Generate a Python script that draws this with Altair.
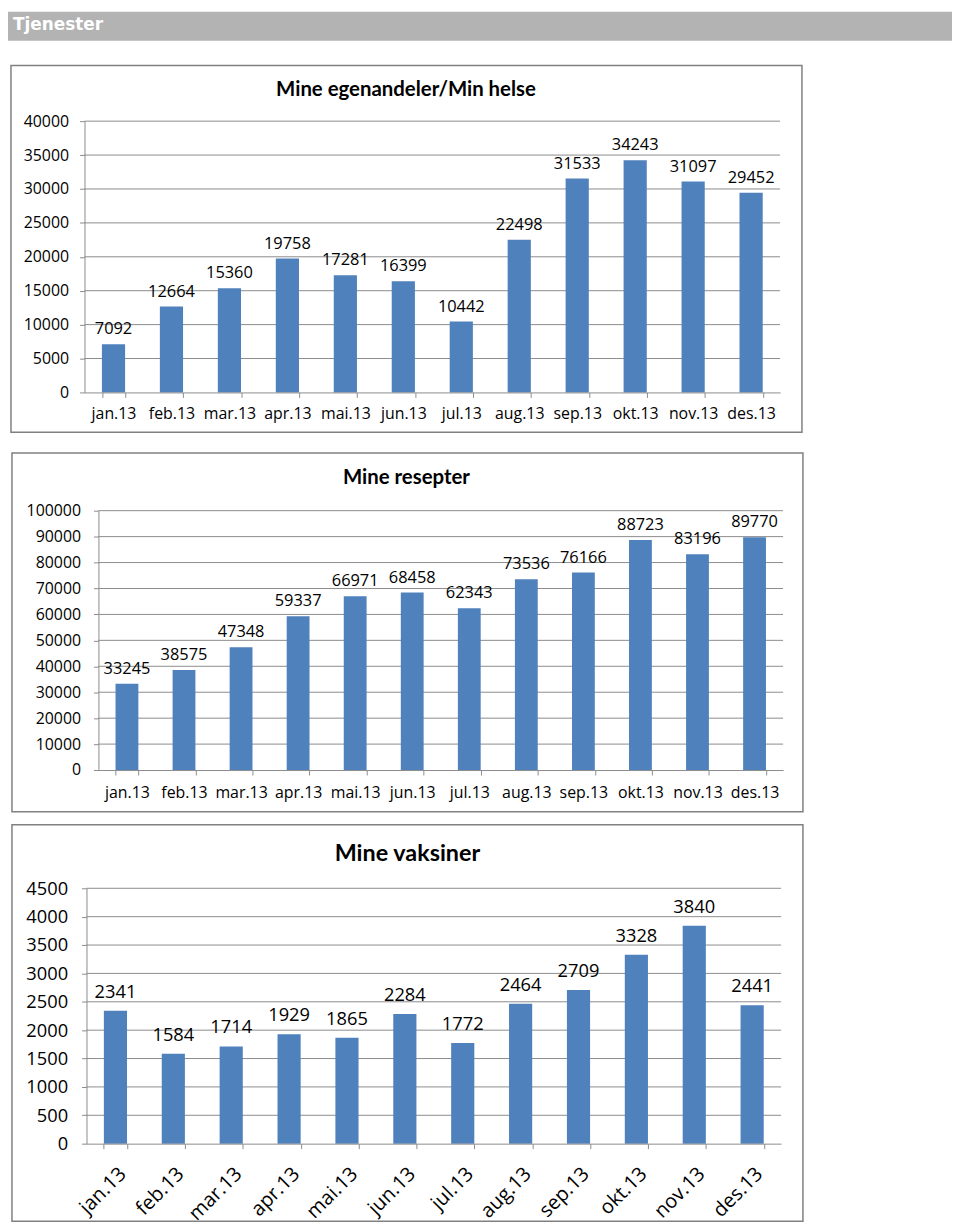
import altair as alt
import pandas as pd

# ---------------- data ----------------
months = ["jan.13", "feb.13", "mar.13", "apr.13", "mai.13", "jun.13",
          "jul.13", "aug.13", "sep.13", "okt.13", "nov.13", "des.13"]
egenandeler = [7092, 12664, 15360, 19758, 17281, 16399, 10442, 22498, 31533, 34243, 31097, 29452]
resepter = [33245, 38575, 47348, 59337, 66971, 68458, 62343, 73536, 76166, 88723, 83196, 89770]
vaksiner = [2341, 1584, 1714, 1929, 1865, 2284, 1772, 2464, 2709, 3328, 3840, 2441]

ticks_egen = [0, 5000, 10000, 15000, 20000, 25000, 30000, 35000, 40000]
ticks_resepter = [0, 10000, 20000, 30000, 40000, 50000, 60000, 70000, 80000, 90000, 100000]
ticks_vaksiner = [0, 500, 1000, 1500, 2000, 2500, 3000, 3500, 4000, 4500]

title_egen = "Mine egenandeler/Min helse"
title_resepter = "Mine resepter"
title_vaksiner = "Mine vaksiner"
header_text = "Tjenester"

# ---------------- style ----------------
BAR = "#4f81bd"
GRID = "#8c8c8c"
FRAME = "#808080"
FONT = "Open Sans"
TFONT = "Lato"
W = 703


def panel(values, ticks, title, cfg, extra_layers=None):
    df = pd.DataFrame({"month": months, "value": values})
    grid_df = pd.DataFrame({"value": [t for t in ticks if t > 0]})
    one = pd.DataFrame({"t": [title]})
    a, b = cfg["xr"]
    fs = cfg["fs"]

    x_enc = alt.X(
        "month:N", sort=months, title=None,
        scale=alt.Scale(range=[a, b], paddingInner=0.6, paddingOuter=0.3),
        axis=alt.Axis(
            tickBand="extent", labelAngle=cfg["angle"], labelFont=FONT,
            labelFontSize=cfg["xfs"], labelColor="black", labelPadding=cfg["xpad"],
            tickSize=5, tickColor=GRID, domainColor=GRID, labelOverlap=False,
            zindex=1,
        ),
    )
    y_enc = alt.Y(
        "value:Q", title=None,
        scale=alt.Scale(domain=[0, ticks[-1]], nice=False, zero=True),
        axis=alt.Axis(
            values=ticks, grid=False, offset=-a, labelFont=FONT, labelFontSize=fs,
            labelColor="black", labelPadding=cfg["ypad"], tickSize=5,
            tickColor=GRID, domainColor=GRID, labelOverlap=False, format="d",
            zindex=1,
        ),
    )

    fx1, fx2, fy1, fy2 = cfg["frame"]
    frame = alt.Chart(one).mark_rect(fill="white", stroke=FRAME, strokeWidth=1.5).encode(
        x=alt.value(fx1), x2=alt.value(fx2), y=alt.value(fy1), y2=alt.value(fy2)
    )
    grid = alt.Chart(grid_df).mark_rule(color=GRID, strokeWidth=1).encode(
        y=y_enc, x=alt.value(a), x2=alt.value(b)
    )
    bars = alt.Chart(df).mark_bar(color=BAR).encode(x=x_enc, y=y_enc)
    labels = alt.Chart(df).mark_text(
        baseline="alphabetic", dy=-cfg["ldy"], font=FONT, fontSize=cfg["lfs"], color="black"
    ).encode(x=x_enc, y=y_enc, text=alt.Text("value:Q", format="d"))
    tx, ty = cfg["title_pos"]
    ttl = alt.Chart(one).mark_text(
        font=TFONT, fontWeight="bold", fontSize=cfg["tfs"], color="black",
        align="center", baseline="alphabetic",
    ).encode(text="t:N", x=alt.value(tx), y=alt.value(ty))

    layers = (extra_layers or []) + [frame, grid, bars, labels, ttl]
    return alt.layer(*layers).properties(width=W, height=cfg["h"])


# header bar (part of first panel)
hdr_df = pd.DataFrame({"t": [header_text]})
header_bar = alt.Chart(hdr_df).mark_rect(fill="#b3b3b3").encode(
    x=alt.value(-77), x2=alt.value(873), y=alt.value(-110), y2=alt.value(-81)
)
header_lbl = alt.Chart(hdr_df).mark_text(
    font="DejaVu Sans", fontWeight="bold", fontSize=17, color="white",
    align="left", baseline="alphabetic",
).encode(text="t:N", x=alt.value(-72), y=alt.value(-92))

p1 = panel(
    egenandeler, ticks_egen, title_egen,
    dict(xr=(0, 700), fs=16, xfs=16, lfs=16.5, tfs=20.5, angle=0, xpad=8, ypad=11, ldy=10,
         h=273, frame=(-74, 722, -56, 313), title_pos=(323.5, -25)),
    extra_layers=[header_bar, header_lbl],
)

p2 = panel(
    resepter, ticks_resepter, title_resepter,
    dict(xr=(14, 703), fs=16, xfs=16, lfs=16.5, tfs=20.5, angle=0, xpad=10, ypad=13, ldy=10,
         h=261, frame=(-73, 723, -58, 303), title_pos=(324, -26.5)),
)

p3 = panel(
    vaksiner, ticks_vaksiner, title_vaksiner,
    dict(xr=(2, 701), fs=18.4, xfs=20, lfs=18.4, tfs=23.5, angle=315, xpad=15, ypad=14, ldy=13,
         h=257, frame=(-73, 723, -64, 335), title_pos=(325, -27.5)),
)

chart = alt.vconcat(p1, p2, p3, spacing=119, bounds="flush").properties(padding=0).configure_view(strokeWidth=0)

chart.save("out.html", embed_options={"renderer": "svg", "actions": False})
